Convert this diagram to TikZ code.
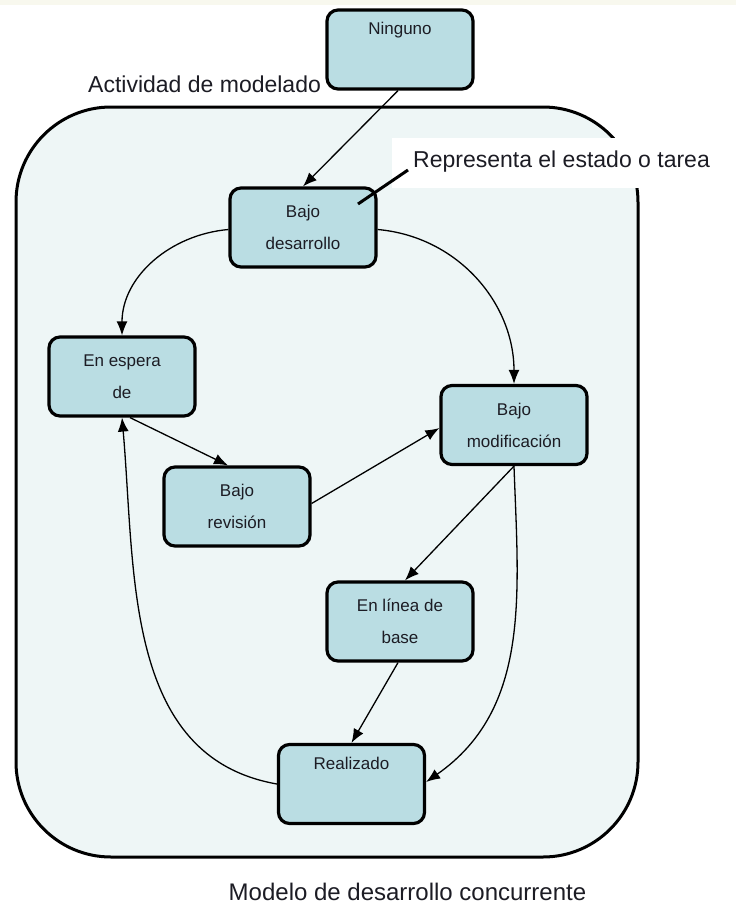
\documentclass[tikz,border=0pt]{standalone}
\usepackage{fontspec}
\setmainfont{Liberation Sans}
\usetikzlibrary{arrows.meta}
\definecolor{statefill}{HTML}{BADDE3}
\definecolor{panelfill}{HTML}{EEF6F6}
\definecolor{inkcol}{HTML}{1C1C24}
\definecolor{topband}{HTML}{F8F8EE}
\begin{document}
\begin{tikzpicture}[x=1pt,y=-1pt,
  state/.style={draw=black, line width=3.2pt, rounded corners=11pt, fill=statefill,
    minimum width=146pt, minimum height=79pt, align=center, inner sep=0pt,
    font=\fontsize{17}{32}\selectfont, text=inkcol},
  flow/.style={-{Latex[length=14pt,width=11pt]}, line width=1.3pt},
  caption/.style={font=\fontsize{23}{27}\selectfont, text=inkcol, inner sep=0pt}]
\useasboundingbox (0,0) rectangle (736,919);
\fill[white] (0,0) rectangle (736,919);
\fill[topband] (0,0) rectangle (736,5);

% panel of the modelling activity
\draw[line width=3pt, fill=panelfill, rounded corners=95pt] (16,107) rectangle (638,857);
\fill[white] (392,138) rectangle (730,188);

% labels
\node[caption, anchor=base west] (act) at (88,92) {Actividad de modelado};
\node[caption, anchor=base west] (repr) at (413,167) {Representa el estado o tarea};
\node[caption, anchor=base, font=\fontsize{24}{28}\selectfont] (title) at (407.5,900) {Modelo de desarrollo concurrente};

% states
\node[state] (ninguno) at (400,49.5) {Ninguno\\\strut};
\node[state] (desarrollo) at (303,227.5) {Bajo\\desarrollo};
\node[state] (espera) at (122,376.5) {En espera\\de};
\node[state] (revision) at (237,506.5) {Bajo\\revisión};
\node[state] (modif) at (514,425) {Bajo\\modificación};
\node[state] (linea) at (400,621.5) {En línea de\\base};
\node[state] (realizado) at (351.5,784) {Realizado\\\strut};

% pointer from the label to a state
\draw[line width=3pt] ([xshift=55pt,yshift=23.5pt]desarrollo.center) -- ([xshift=-5pt,yshift=-3pt]repr.base west);

% transitions
\draw[flow] ([xshift=-2pt]ninguno.south) -- (desarrollo.north);
\draw[flow] ([yshift=-2pt]desarrollo.west) to[out=185,in=90] (espera.north);
\draw[flow] ([yshift=-2pt]desarrollo.east) to[out=-5,in=90] (modif.north);
\draw[flow] ([xshift=8pt]espera.south) -- ([xshift=-9pt]revision.north);
\draw[flow] ([yshift=3pt]revision.east) -- ([yshift=-3pt]modif.west);
\draw[flow] (modif.south) -- ([xshift=5pt]linea.north);
\draw[flow] (modif.south) to[out=-88,in=35] ([yshift=2pt]realizado.east);
\draw[flow] ([xshift=-2pt]linea.south) -- (realizado.north);
\draw[flow] (realizado.west) to[out=170,in=-85] (espera.south);
\end{tikzpicture}
\end{document}
